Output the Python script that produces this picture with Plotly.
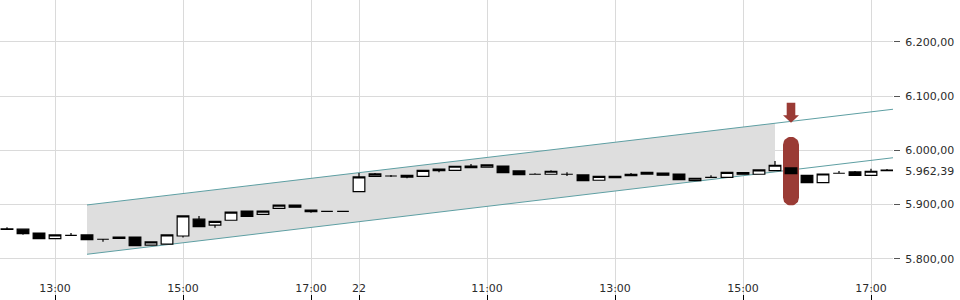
import numpy as np
import plotly.graph_objects as go

# ---- data -------------------------------------------------------------
def quarter_hours(start_h, start_m, end_h, end_m):
    out = []
    t = start_h * 60 + start_m
    while t <= end_h * 60 + end_m:
        out.append(f"{t // 60:02d}:{t % 60:02d}")
        t += 15
    return out

day1_times = ["21 " + t for t in quarter_hours(12, 15, 17, 30)]
day2_times = ["22 " + t for t in quarter_hours(9, 0, 17, 15)]
times = day1_times + day2_times

open_ = [5854.0, 5854.6, 5847.5, 5837.0, 5843.3, 5844.0, 5836.0, 5840.0, 5840.0, 5825.0,
         5827.0, 5842.0, 5873.0, 5862.0, 5871.0, 5888.0, 5882.0, 5893.0, 5899.0, 5889.5,
         5887.5, 5887.5, 5923.7, 5952.0, 5952.6, 5950.5, 5952.0, 5965.5, 5963.0, 5971.0,
         5968.7, 5971.0, 5962.0, 5955.8, 5955.8, 5955.8, 5954.5, 5944.7, 5952.0, 5955.8,
         5955.8, 5958.0, 5956.3, 5944.0, 5950.2, 5950.2, 5958.7, 5955.8, 5962.4, 5967.4,
         5953.9, 5940.3, 5957.6, 5960.0, 5953.9, 5963.3]
high = [5858.0, 5854.6, 5847.5, 5844.0, 5847.5, 5845.0, 5836.0, 5840.0, 5840.0, 5831.0,
        5844.0, 5879.0, 5879.0, 5869.0, 5886.0, 5888.0, 5888.0, 5899.0, 5899.0, 5891.0,
        5887.5, 5887.5, 5958.0, 5958.0, 5954.5, 5954.0, 5963.0, 5965.5, 5970.5, 5974.7,
        5973.0, 5971.0, 5962.0, 5957.6, 5963.0, 5959.5, 5954.5, 5952.0, 5952.0, 5958.0,
        5959.4, 5958.0, 5956.3, 5948.4, 5953.9, 5959.4, 5958.7, 5963.7, 5980.3, 5967.4,
        5953.9, 5956.3, 5961.8, 5961.8, 5966.0, 5965.5]
low = [5854.0, 5844.4, 5837.0, 5837.0, 5843.3, 5835.2, 5831.5, 5837.5, 5824.0, 5825.0,
       5827.0, 5839.0, 5859.0, 5857.0, 5871.0, 5878.0, 5882.0, 5893.0, 5895.0, 5885.0,
       5887.5, 5887.5, 5923.7, 5952.0, 5950.8, 5948.5, 5952.0, 5959.5, 5963.0, 5968.0,
       5968.7, 5958.7, 5955.0, 5955.8, 5955.8, 5952.6, 5944.0, 5944.7, 5949.5, 5953.2,
       5955.8, 5954.0, 5946.0, 5944.0, 5950.2, 5950.2, 5955.8, 5955.8, 5962.4, 5956.9,
       5940.3, 5940.3, 5957.6, 5953.9, 5953.9, 5961.5]
close = [5855.0, 5846.3, 5837.0, 5844.0, 5843.3, 5835.2, 5836.0, 5837.5, 5824.0, 5831.0,
         5844.0, 5879.0, 5859.0, 5869.0, 5886.0, 5878.0, 5888.0, 5899.0, 5895.0, 5887.0,
         5887.5, 5887.5, 5950.8, 5956.5, 5952.6, 5954.0, 5963.0, 5962.4, 5970.5, 5968.0,
         5973.0, 5958.7, 5955.0, 5955.8, 5961.3, 5955.8, 5944.0, 5952.0, 5949.5, 5953.2,
         5959.4, 5954.0, 5946.0, 5948.4, 5950.2, 5959.4, 5955.8, 5963.7, 5972.4, 5956.9,
         5940.3, 5956.3, 5957.6, 5953.9, 5961.3, 5962.39]

tick_times = ["21 13:00", "21 15:00", "21 17:00", "22 09:00", "22 11:00", "22 13:00", "22 15:00", "22 17:00"]
tick_labels = ["13:00", "15:00", "17:00", "22", "11:00", "13:00", "15:00", "17:00"]
y_ticks = [5800, 5900, 6000, 6100, 6200]
last_price = 5962.39

# trend channel (start candle, end candle, upper/lower values at those candles)
channel_times = ["21 13:30", "22 17:15"]
channel_upper = [5899.2, 6074.3]
channel_lower = [5808.3, 5984.9]
channel_fill_end = "22 15:30"

# signal marker
signal_time = "22 15:45"
signal_top = 6025.0
signal_bottom = 5898.0

# ---- geometry helpers -------------------------------------------------
W, H = 960, 300
MR = 67
plot_w = W - MR
plot_h = H
x_range = [-0.4375, 55.375]
y_range = [5724.0, 6277.0]
kx = plot_w / (x_range[1] - x_range[0])   # px per candle
ky = plot_h / (y_range[1] - y_range[0])   # px per point

pos = {t: i for i, t in enumerate(times)}
x = list(range(len(times)))
ch_x = [pos[t] for t in channel_times]

def chan_at(xv, vals):
    return vals[0] + (vals[1] - vals[0]) * (xv - ch_x[0]) / (ch_x[1] - ch_x[0])

fig = go.Figure()

# channel fill
fx_end = pos[channel_fill_end]
fig.add_trace(go.Scatter(
    x=[ch_x[0], fx_end, fx_end, ch_x[0], ch_x[0]],
    y=[chan_at(ch_x[0], channel_upper), chan_at(fx_end, channel_upper),
       chan_at(fx_end, channel_lower), chan_at(ch_x[0], channel_lower), chan_at(ch_x[0], channel_upper)],
    fill="toself", fillcolor="#dedede", line=dict(width=0), mode="lines",
    hoverinfo="skip", showlegend=False))

# channel lines (extended to the right edge)
ext = x_range[1] + 1
for vals in (channel_upper, channel_lower):
    fig.add_trace(go.Scatter(
        x=[ch_x[0], ext], y=[chan_at(ch_x[0], vals), chan_at(ext, vals)],
        mode="lines", line=dict(color="#5e9fa3", width=1), hoverinfo="skip", showlegend=False))

# signal pill
sx = pos[signal_time]
r_px = 8
rx = r_px / kx
ry = r_px / ky
ang = np.linspace(0, np.pi, 20)
top_c = signal_top - ry
bot_c = signal_bottom + ry
px_ = list(sx + rx * np.cos(ang)) + list(sx - rx * np.cos(ang))
py_ = list(top_c + ry * np.sin(ang)) + list(bot_c - ry * np.sin(ang))
px_.append(px_[0]); py_.append(py_[0])
fig.add_trace(go.Scatter(x=px_, y=py_, fill="toself", fillcolor="#9a3b35",
                         line=dict(width=0), mode="lines", hoverinfo="skip", showlegend=False))

# arrow pointing at the upper channel line
tip_y = chan_at(sx, channel_upper) - 1.5 / ky
ax_off = [0, 8, 4.3, 4.3, -4.3, -4.3, -8, 0]
ay_off = [0, 7.5, 7.5, 20, 20, 7.5, 7.5, 0]
fig.add_trace(go.Scatter(x=[sx + a / kx for a in ax_off], y=[tip_y + b / ky for b in ay_off],
                         fill="toself", fillcolor="#9a3b35", line=dict(width=0), mode="lines",
                         hoverinfo="skip", showlegend=False))

# candles (on the overlaid axis so they sit above the channel and marker)
fig.add_trace(go.Candlestick(
    x=x, open=open_, high=high, low=low, close=close, yaxis="y2",
    increasing=dict(line=dict(color="black", width=1.2), fillcolor="white"),
    decreasing=dict(line=dict(color="black", width=1.2), fillcolor="black"),
    whiskerwidth=0, showlegend=False))

tick_font = dict(family="DejaVu Sans", size=11, color="#2b2b2b")
fig.update_layout(
    width=W, height=H,
    margin=dict(l=0, r=MR, t=0, b=0),
    paper_bgcolor="white", plot_bgcolor="white",
    separators=",.",
    boxgap=0.27, boxgroupgap=0,
    showlegend=False,
    xaxis=dict(
        range=x_range, rangeslider=dict(visible=False),
        tickvals=[pos[t] for t in tick_times], ticktext=tick_labels,
        showgrid=True, gridcolor="#dadada", gridwidth=1,
        ticks="inside", ticklen=5, tickcolor="black",
        ticklabelposition="inside", zeroline=False, showline=False,
        tickfont=tick_font,
    ),
    yaxis=dict(
        range=y_range, side="right", tickvals=y_ticks, tickformat=",.2f",
        showgrid=True, gridcolor="#dadada", gridwidth=1,
        ticks="outside", ticklen=6, tickcolor="#555555", ticklabelstandoff=3,
        zeroline=False, showline=False, tickfont=tick_font,
    ),
    yaxis2=dict(
        range=y_range, side="right", overlaying="y", tickvals=[last_price], tickformat=",.2f",
        showgrid=False, ticks="outside", ticklen=6, tickcolor="rgba(0,0,0,0)", ticklabelstandoff=3,
        zeroline=False, showline=False, tickfont=tick_font,
    ),
)

fig.write_html("out.html")
